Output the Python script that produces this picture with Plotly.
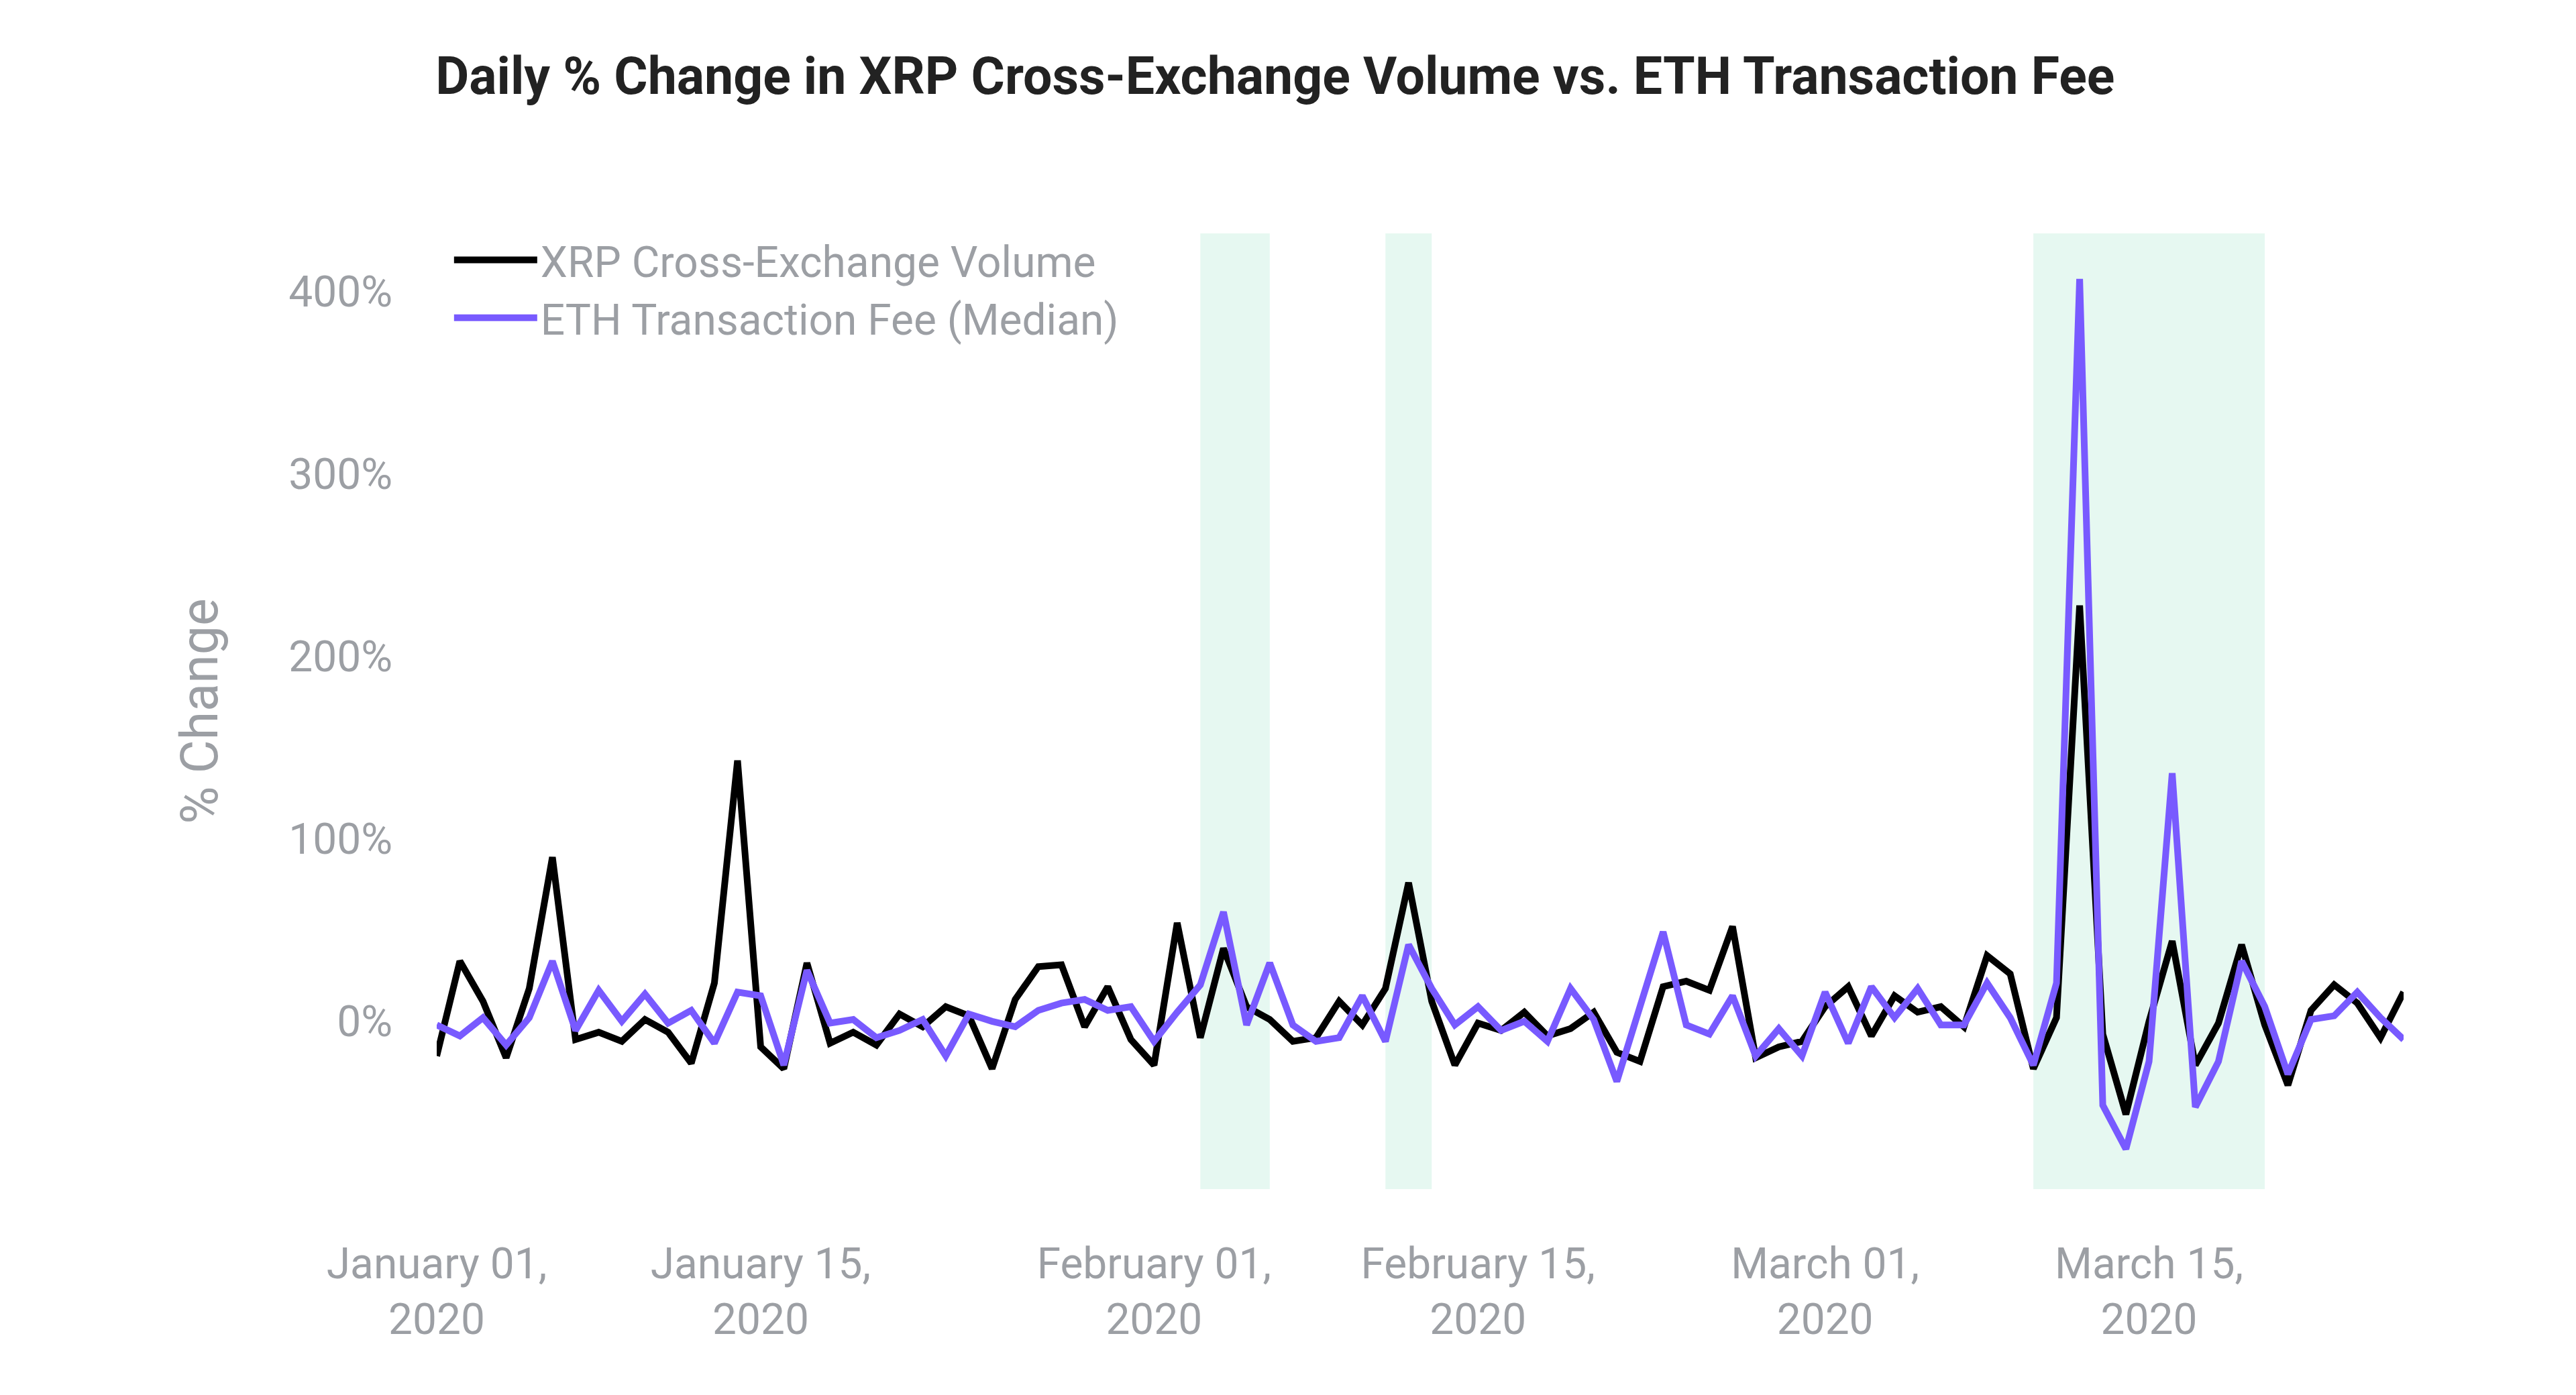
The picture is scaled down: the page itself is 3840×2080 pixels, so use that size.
import plotly.graph_objects as go
import pandas as pd

start_date = "2020-01-01"
xrp_volume_pct = [-19, 33, 11, -20, 18, 90, -10, -6, -11, 1, -6, -23, 21, 143, -14,
                  -26, 32, -12, -6, -13, 4, -3, 8, 3, -26, 12, 30, 31, -3, 19,
                  -10, -24, 54, -9, 40, 8, 1, -11, -9, 11, -2, 18, 76, 11, -24,
                  -1, -5, 5, -8, -4, 5, -17, -22, 19, 22, 17, 52, -20, -14, -11,
                  8, 19, -8, 14, 5, 8, -3, 36, 26, -26, 2, 228, -7, -51, 0,
                  44, -24, -1, 42, -2, -35, 6, 20, 10, -9, 16]
eth_fee_pct = [-2, -8, 2, -13, 2, 33, -5, 17, 0, 15, -1, 6, -12, 16, 14,
               -24, 28, -1, 1, -9, -5, 1, -19, 4, 0, -3, 6, 10, 12, 6,
               8, -11, 5, 20, 60, -2, 32, -2, -11, -9, 14, -11, 42, 18, -2,
               8, -5, 0, -11, 18, 1, -33, 8, 49, -2, -7, 14, -19, -4, -19,
               16, -12, 19, 2, 18, -2, -2, 21, 2, -24, 21, 407, -46, -70, -22,
               136, -47, -22, 33, 8, -29, 1, 3, 16, 2, -10]
highlight_starts = ["2020-02-03", "2020-02-11", "2020-03-10"]
highlight_ends = ["2020-02-06", "2020-02-13", "2020-03-20"]
tick_dates = ["2020-01-01", "2020-01-15", "2020-02-01", "2020-02-15", "2020-03-01", "2020-03-15"]
tick_labels = ["January 01,<br>2020", "January 15,<br>2020", "February 01,<br>2020",
               "February 15,<br>2020", "March 01,<br>2020", "March 15,<br>2020"]
y_tick_vals = [0, 100, 200, 300, 400]
y_tick_labels = ["0%", "100%", "200%", "300%", "400%"]
series_names = ["XRP Cross-Exchange Volume", "ETH Transaction Fee (Median)"]

dates = pd.date_range(start_date, periods=len(xrp_volume_pct), freq="D")

GRAY = "#9c9fa4"
FONT = "Roboto"

fig = go.Figure()
fig.add_trace(go.Scatter(x=dates, y=xrp_volume_pct, mode="lines", name=series_names[0],
                         line=dict(color="#000000", width=10)))
fig.add_trace(go.Scatter(x=dates, y=eth_fee_pct, mode="lines", name=series_names[1],
                         line=dict(color="#785aff", width=10)))

for s, e in zip(highlight_starts, highlight_ends):
    fig.add_shape(type="rect", xref="x", yref="paper", x0=s, x1=e, y0=0, y1=1,
                  fillcolor="#e6f8f1", line=dict(width=0), layer="below")

fig.update_layout(
    width=3840, height=2080,
    margin=dict(l=651, r=257, t=348, b=307),
    paper_bgcolor="white", plot_bgcolor="white",
    font=dict(family=FONT, color=GRAY, size=64),
    title=dict(text="<b>Daily % Change in XRP Cross-Exchange Volume vs. ETH Transaction Fee</b>",
               x=0.495, xref="container", xanchor="center",
               y=1 - 113 / 2080, yref="container", yanchor="middle",
               font=dict(family=FONT, size=77, color="#222222")),
    legend=dict(x=0.0071, y=1.006, xanchor="left", yanchor="top", xref="paper",
                font=dict(family=FONT, size=64, color=GRAY),
                bgcolor="rgba(0,0,0,0)", itemwidth=124, tracegroupgap=0),
    showlegend=True,
)
fig.update_xaxes(type="date", tickvals=tick_dates, ticktext=tick_labels,
                 showgrid=False, zeroline=False, showline=False, ticks="",
                 ticklabelstandoff=68, tickfont=dict(size=64, color=GRAY))
fig.update_yaxes(range=[-92, 432], tickvals=y_tick_vals, ticktext=y_tick_labels,
                 showgrid=False, zeroline=False, showline=False, ticks="",
                 ticklabelstandoff=65, tickfont=dict(size=64, color=GRAY),
                 title=dict(text="% Change", standoff=80, font=dict(size=77, color=GRAY)))

fig.write_html("out.html")
